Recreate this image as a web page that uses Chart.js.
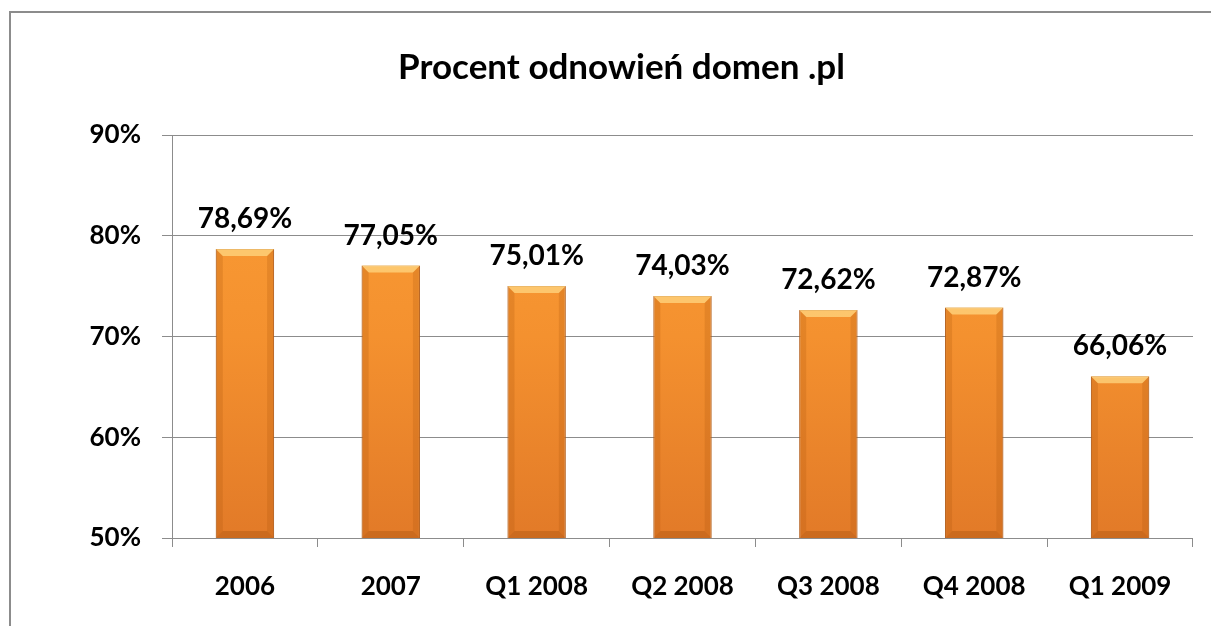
<!DOCTYPE html>
<html>
<head>
<meta charset="utf-8">
<script src="https://cdn.jsdelivr.net/npm/chart.js@4"></script>
<style>
  html, body { margin: 0; padding: 0; background: #fff; }
  #wrap { width: 1211px; height: 626px; }
</style>
</head>
<body>
<div id="wrap"><canvas id="renewChart"></canvas></div>
<script>
const categories = ['2006', '2007', 'Q1 2008', 'Q2 2008', 'Q3 2008', 'Q4 2008', 'Q1 2009'];
const renewals = [78.69, 77.05, 75.01, 74.03, 72.62, 72.87, 66.06];
const yTicks = [50, 60, 70, 80, 90];

const FONT = 'Lato, "Open Sans", sans-serif';

// frame around the whole chart, like the spreadsheet chart border
const framePlugin = {
  id: 'frame',
  beforeDraw(chart) {
    const ctx = chart.ctx;
    ctx.save();
    ctx.fillStyle = '#fff';
    ctx.fillRect(0, 0, chart.width, chart.height);
    ctx.strokeStyle = '#8c8c8c';
    ctx.lineWidth = 2;
    ctx.strokeRect(10, 12, chart.width + 20, chart.height + 20);
    ctx.restore();
  }
};

// small bevel on the bars + value labels above them
const barDecor = {
  id: 'barDecor',
  afterDatasetsDraw(chart) {
    const ctx = chart.ctx;
    const meta = chart.getDatasetMeta(0);
    const areaBottom = chart.chartArea.bottom;
    ctx.save();
    meta.data.forEach((bar, i) => {
      const left = bar.x - bar.width / 2;
      const right = bar.x + bar.width / 2;
      const top = bar.y;
      const bottom = Math.min(bar.base, areaBottom);
      const b = 7;
      // top facet
      ctx.fillStyle = 'rgba(255, 215, 130, 0.75)';
      ctx.beginPath();
      ctx.moveTo(left, top);
      ctx.lineTo(right, top);
      ctx.lineTo(right - b, top + b);
      ctx.lineTo(left + b, top + b);
      ctx.closePath();
      ctx.fill();
      // side facets
      ctx.fillStyle = 'rgba(170, 80, 10, 0.22)';
      ctx.beginPath();
      ctx.moveTo(left, top);
      ctx.lineTo(left + b, top + b);
      ctx.lineTo(left + b, bottom - b);
      ctx.lineTo(left, bottom);
      ctx.closePath();
      ctx.fill();
      ctx.beginPath();
      ctx.moveTo(right, top);
      ctx.lineTo(right - b, top + b);
      ctx.lineTo(right - b, bottom - b);
      ctx.lineTo(right, bottom);
      ctx.closePath();
      ctx.fill();
      // bottom facet
      ctx.fillStyle = 'rgba(150, 70, 10, 0.3)';
      ctx.beginPath();
      ctx.moveTo(left, bottom);
      ctx.lineTo(right, bottom);
      ctx.lineTo(right - b, bottom - b);
      ctx.lineTo(left + b, bottom - b);
      ctx.closePath();
      ctx.fill();

      // value label
      const txt = renewals[i].toFixed(2).replace('.', ',') + '%';
      ctx.fillStyle = '#000';
      ctx.font = 'bold 28px ' + FONT;
      ctx.textAlign = 'center';
      ctx.textBaseline = 'bottom';
      ctx.fillText(txt, bar.x, top - 16);
    });
    ctx.restore();
  }
};

const ctx = document.getElementById('renewChart').getContext('2d');

new Chart(ctx, {
  type: 'bar',
  data: {
    labels: categories,
    datasets: [{
      data: renewals,
      backgroundColor: function(context) {
        const area = context.chart.chartArea;
        if (!area) return '#F39130';
        const g = context.chart.ctx.createLinearGradient(0, area.top, 0, area.bottom);
        g.addColorStop(0, '#FB9E36');
        g.addColorStop(0.5, '#F4912F');
        g.addColorStop(1, '#E27A28');
        return g;
      },
      borderColor: '#B8611E',
      borderWidth: 1,
      barPercentage: 0.4,
      categoryPercentage: 1.0
    }]
  },
  options: {
    responsive: true,
    maintainAspectRatio: false,
    animation: false,
    layout: {
      padding: { left: 50, right: 18, top: 0, bottom: 0 }
    },
    plugins: {
      legend: { display: false },
      tooltip: { enabled: false },
      title: {
        display: true,
        text: 'Procent odnowień domen .pl',
        color: '#000',
        font: { family: FONT, size: 35, weight: 'bold', lineHeight: 1.2 },
        padding: { top: 47, bottom: 46 }
      }
    },
    scales: {
      x: {
        offset: true,
        grid: {
          offset: true,
          drawOnChartArea: false,
          drawTicks: true,
          tickLength: 9,
          color: '#8c8c8c'
        },
        border: { display: false },
        ticks: {
          color: '#000',
          padding: 24,
          maxRotation: 0,
          font: { family: FONT, size: 26, weight: 'bold' }
        },
        afterFit(scale) { scale.height = 88; }
      },
      y: {
        min: 50,
        max: 90,
        afterBuildTicks(scale) {
          scale.ticks = yTicks.map(v => ({ value: v }));
        },
        grid: {
          color: '#8c8c8c',
          tickLength: 10
        },
        border: { display: true, color: '#8c8c8c' },
        ticks: {
          color: '#000',
          padding: 21,
          font: { family: FONT, size: 26, weight: 'bold' },
          callback: v => v + '%'
        },
        afterFit(scale) { scale.width = 122; }
      }
    }
  },
  plugins: [framePlugin, barDecor]
});
</script>
</body>
</html>
